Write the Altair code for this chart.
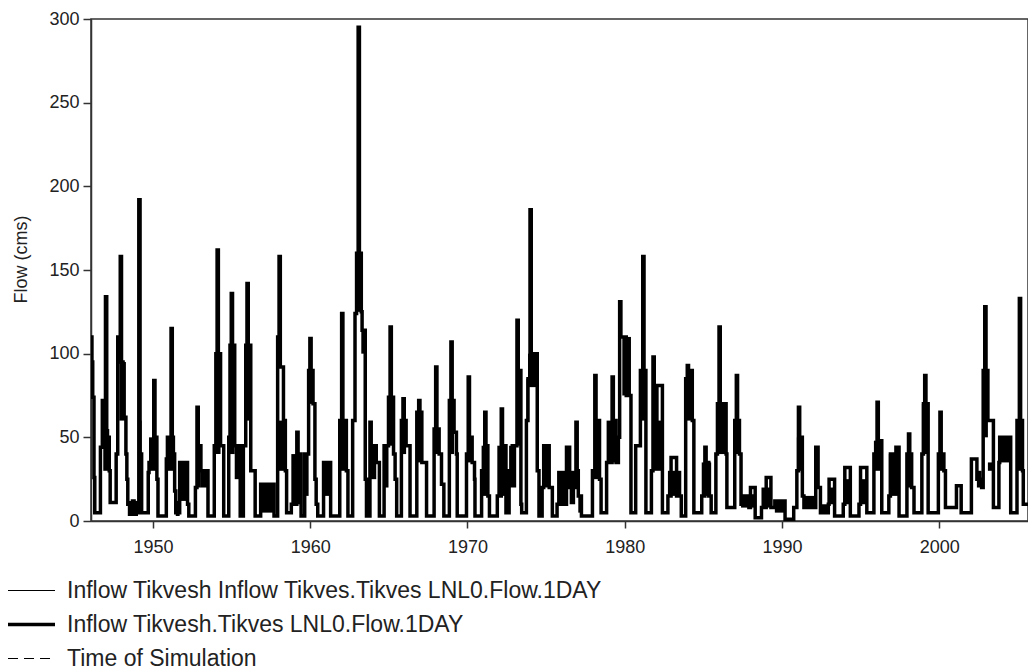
import altair as alt
import pandas as pd

THIN = "Inflow Tikvesh Inflow Tikves.Tikves LNL0.Flow.1DAY"
THICK = "Inflow Tikvesh.Tikves LNL0.Flow.1DAY"
SIM = "Time of Simulation"
series_names = [THIN, THICK, SIM]

# step points (decimal year, flow in cms)
flow_1946_1955 = [
    (1946.06, 110), (1946.12, 95), (1946.17, 74), (1946.25, 26), (1946.30, 5),
    (1946.66, 44), (1946.78, 72), (1946.84, 44), (1946.98, 134), (1947.06, 50), (1947.22, 30), (1947.28, 11),
    (1947.66, 40), (1947.76, 110), (1947.84, 95), (1947.92, 158), (1948.00, 95), (1948.10, 62), (1948.28, 40),
    (1948.34, 25), (1948.40, 10), (1948.55, 5), (1948.70, 12), (1948.80, 5),
    (1949.10, 192), (1949.18, 40), (1949.28, 5),
    (1949.70, 29), (1949.75, 35), (1950.05, 84), (1950.13, 50), (1950.25, 25), (1950.32, 3),
    (1950.85, 37), (1950.92, 50), (1951.15, 115), (1951.23, 50), (1951.30, 40), (1951.38, 18), (1951.45, 5),
    (1951.70, 35), (1952.20, 10), (1952.28, 3),
    (1952.70, 20), (1952.80, 68), (1952.88, 45), (1953.05, 30), (1953.50, 3),
    (1953.90, 45), (1954.00, 100), (1954.08, 162), (1954.16, 100), (1954.30, 45), (1954.50, 3),
    (1954.82, 50), (1954.90, 105), (1954.98, 136), (1955.06, 105), (1955.20, 45), (1955.55, 3),
]
flow_1955_1965 = [
    (1955.75, 45), (1955.90, 105), (1955.98, 142), (1956.06, 105), (1956.22, 30), (1956.50, 3),
    (1956.85, 22), (1957.70, 3),
    (1957.93, 110), (1958.02, 158), (1958.10, 92), (1958.30, 60), (1958.42, 30), (1958.50, 5),
    (1958.80, 10), (1959.15, 53), (1959.23, 40), (1959.42, 3),
    (1959.65, 40), (1959.90, 90), (1959.98, 109), (1960.06, 90), (1960.18, 70), (1960.30, 25), (1960.38, 10),
    (1960.48, 3),
    (1960.85, 35), (1961.30, 3),
    (1961.88, 60), (1962.00, 124), (1962.08, 60), (1962.30, 30), (1962.40, 3),
    (1962.70, 60), (1962.85, 124), (1962.95, 160), (1963.05, 295), (1963.13, 160), (1963.25, 125),
    (1963.30, 114), (1963.50, 25), (1963.58, 3),
    (1963.80, 59), (1963.88, 45), (1964.20, 35), (1964.40, 3),
    (1964.70, 45), (1964.98, 74), (1965.08, 116), (1965.16, 74), (1965.30, 40), (1965.40, 25), (1965.50, 3),
]
flow_1965_1975 = [
    (1965.80, 60), (1965.90, 73), (1965.98, 60), (1966.10, 45), (1966.35, 3),
    (1966.78, 65), (1966.90, 72), (1966.98, 65), (1967.10, 35), (1967.40, 3),
    (1967.88, 55), (1967.98, 92), (1968.06, 55), (1968.20, 40), (1968.35, 22), (1968.50, 3),
    (1968.85, 72), (1968.95, 107), (1969.03, 72), (1969.15, 53), (1969.30, 40), (1969.35, 3),
    (1969.94, 40), (1970.05, 86), (1970.13, 50), (1970.30, 35), (1970.45, 25), (1970.48, 3),
    (1970.90, 30), (1971.10, 65), (1971.18, 45), (1971.30, 15), (1971.40, 3),
    (1971.90, 15), (1972.15, 67), (1972.23, 45), (1972.45, 5),
    (1972.65, 30), (1972.85, 45), (1973.15, 120), (1973.23, 90), (1973.40, 10), (1973.45, 5),
    (1973.75, 60), (1973.85, 85), (1973.98, 186), (1974.06, 100), (1974.44, 30), (1974.55, 3),
    (1974.75, 20), (1974.85, 45), (1975.20, 20), (1975.40, 3),
]
flow_1975_1985 = [
    (1975.70, 10), (1976.30, 44), (1976.50, 20), (1976.90, 59), (1976.98, 30), (1977.05, 15), (1977.25, 3),
    (1977.95, 30), (1978.10, 87), (1978.18, 60), (1978.40, 25), (1978.50, 5),
    (1978.85, 35), (1979.20, 86), (1979.28, 60), (1979.45, 35), (1979.60, 50), (1979.68, 131), (1979.76, 110),
    (1980.10, 75), (1980.40, 5),
    (1980.70, 45), (1981.00, 90), (1981.15, 158), (1981.23, 90), (1981.35, 5),
    (1981.70, 30), (1981.80, 98), (1981.88, 60), (1982.05, 81), (1982.40, 5),
    (1982.75, 15), (1982.95, 38), (1983.30, 15), (1983.60, 3),
    (1983.88, 85), (1983.98, 93), (1984.06, 85), (1984.20, 90), (1984.30, 60), (1984.40, 5),
    (1984.90, 15), (1985.10, 44), (1985.18, 35), (1985.35, 15), (1985.50, 5),
]
flow_1985_1995 = [
    (1985.80, 40), (1985.90, 70), (1986.00, 116), (1986.08, 70), (1986.45, 40), (1986.50, 8),
    (1987.00, 60), (1987.10, 87), (1987.18, 60), (1987.30, 40), (1987.40, 10),
    (1987.90, 8), (1988.00, 20), (1988.30, 2),
    (1988.70, 8), (1989.00, 26), (1989.30, 8), (1989.55, 12), (1990.20, 1), (1990.75, 8),
    (1990.95, 30), (1991.05, 68), (1991.13, 50), (1991.30, 15), (1991.40, 8),
    (1992.15, 44), (1992.30, 20), (1992.45, 5),
    (1992.95, 10), (1993.00, 25), (1993.35, 3),
    (1993.90, 10), (1994.00, 32), (1994.35, 3),
    (1994.90, 10), (1995.00, 32), (1995.40, 5),
]
flow_1995_2005 = [
    (1995.85, 40), (1996.05, 71), (1996.13, 48), (1996.35, 5),
    (1996.80, 15), (1996.90, 40), (1997.25, 44), (1997.45, 3),
    (1997.95, 40), (1998.05, 52), (1998.13, 40), (1998.25, 20), (1998.40, 5),
    (1998.90, 40), (1999.00, 70), (1999.08, 87), (1999.16, 70), (1999.30, 5),
    (1999.95, 40), (2000.05, 65), (2000.13, 40), (2000.30, 30), (2000.40, 8),
    (2001.10, 21), (2001.40, 5),
    (2002.05, 37), (2002.40, 25), (2002.70, 20), (2002.80, 90), (2002.90, 128), (2002.98, 90), (2003.10, 60),
    (2003.45, 8),
    (2003.80, 35), (2003.85, 50), (2004.55, 5),
    (2004.95, 60), (2005.10, 133), (2005.18, 60), (2005.30, 30), (2005.35, 10), (2005.70, 10),
]

# dense daily fluctuation bands (start, end, low, high)
bands_1946_1955 = [
    (1946.84, 1947.22, 30, 55), (1947.86, 1948.28, 60, 95), (1948.40, 1949.05, 3, 12),
    (1949.05, 1949.28, 5, 60), (1949.75, 1950.25, 30, 50), (1950.92, 1951.30, 30, 50),
    (1951.45, 1951.70, 3, 12), (1951.70, 1952.20, 12, 35), (1952.76, 1953.05, 20, 45),
    (1953.05, 1953.50, 20, 30), (1954.00, 1954.30, 40, 100), (1954.90, 1955.20, 40, 105),
    (1955.20, 1955.55, 25, 45),
]
bands_1955_1965 = [
    (1955.90, 1956.22, 60, 105), (1956.85, 1957.70, 5, 22), (1958.00, 1958.42, 30, 60),
    (1958.80, 1959.42, 10, 40), (1959.65, 1959.90, 15, 40), (1959.90, 1960.18, 70, 90),
    (1960.85, 1961.30, 15, 35), (1961.88, 1962.30, 30, 60), (1962.95, 1963.25, 125, 160),
    (1963.25, 1963.50, 100, 114), (1963.80, 1964.20, 25, 45), (1964.70, 1964.98, 20, 45),
    (1964.98, 1965.30, 45, 74),
]
bands_1965_1975 = [
    (1965.80, 1966.10, 40, 60), (1966.78, 1967.10, 35, 65), (1967.88, 1968.20, 40, 55),
    (1968.85, 1969.15, 40, 72), (1970.00, 1970.30, 35, 50), (1970.90, 1971.30, 15, 45),
    (1971.90, 1972.45, 15, 45), (1972.65, 1973.10, 20, 45), (1973.10, 1973.40, 45, 90),
    (1973.75, 1973.85, 60, 85), (1973.85, 1974.44, 80, 100), (1974.75, 1975.20, 20, 45),
]
bands_1975_1985 = [
    (1975.70, 1976.30, 10, 30), (1976.50, 1976.85, 10, 30), (1977.05, 1977.25, 5, 15),
    (1978.05, 1978.40, 25, 60), (1978.85, 1979.45, 35, 60), (1979.85, 1980.40, 75, 110),
    (1981.05, 1981.35, 60, 90), (1981.75, 1982.40, 30, 60), (1982.75, 1983.60, 15, 30),
    (1983.88, 1984.40, 60, 85), (1984.90, 1985.50, 15, 35),
]
bands_1985_1995 = [
    (1985.90, 1986.45, 40, 70), (1987.00, 1987.30, 40, 60), (1987.40, 1988.30, 8, 16),
    (1988.70, 1989.30, 8, 20), (1989.55, 1990.20, 5, 12), (1990.95, 1991.30, 30, 50),
    (1991.40, 1992.10, 8, 15), (1992.45, 1992.95, 5, 10), (1992.95, 1993.35, 10, 20),
    (1993.90, 1994.35, 10, 25), (1994.90, 1995.40, 10, 25),
]
bands_1995_2005 = [
    (1995.85, 1996.35, 30, 48), (1996.80, 1997.45, 15, 40), (1997.95, 1998.25, 20, 40),
    (1998.90, 1999.30, 40, 70), (1999.95, 2000.30, 30, 40), (2002.40, 2002.70, 20, 30),
    (2002.80, 2003.10, 50, 90), (2003.10, 2003.45, 30, 35), (2003.80, 2004.55, 35, 50),
    (2004.95, 2005.30, 30, 60),
]

x_ticks = [1950, 1960, 1970, 1980, 1990, 2000]
y_ticks = [0, 50, 100, 150, 200, 250, 300]

flow_segments = [flow_1946_1955, flow_1955_1965, flow_1965_1975,
                 flow_1975_1985, flow_1985_1995, flow_1995_2005]
band_segments = [bands_1946_1955, bands_1955_1965, bands_1965_1975,
                 bands_1975_1985, bands_1985_1995, bands_1995_2005]

rows = []
for name in [THICK, THIN]:
    for seg in flow_segments:
        for t, q in seg:
            rows.append({"t": t, "q": q, "series": name})
line_df = pd.DataFrame(rows)

band_rows = []
for seg in band_segments:
    for t0, t1, lo, hi in seg:
        band_rows.append({"t0": t0, "t1": t1, "lo": lo, "hi": hi})
band_df = pd.DataFrame(band_rows)

FONT = "Liberation Sans"
x_scale = alt.Scale(domain=[1946.06, 2005.65], nice=False, zero=False)
y_scale = alt.Scale(domain=[0, 300], nice=False)
x_axis = alt.Axis(values=x_ticks, format="d", title=None, grid=False, tickSize=7,
                  labelPadding=10, labelFontSize=18, labelFont=FONT, labelColor="#222",
                  domainColor="#333", tickColor="#333", domainWidth=1.5, tickWidth=1.5)
y_axis = alt.Axis(values=y_ticks, title="Flow (cms)", grid=False, tickSize=8,
                  labelPadding=4, labelFontSize=18, labelFont=FONT, labelColor="#222",
                  titleFont=FONT, titleFontSize=18, titleFontWeight="normal", titleColor="#222",
                  titlePadding=18, titleY=240, domainColor="#333", tickColor="#333",
                  domainWidth=1.5, tickWidth=1.5)

# a long horizontal stroke drawn from a small symbol box, so rows can sit close together
legend = alt.Legend(title=None, orient="none", legendX=-71, legendY=560, direction="vertical",
                    symbolType="M-4.7,0H4.7", symbolSize=100, symbolStrokeColor="black",
                    symbolFillColor="transparent",
                    labelFontSize=23, labelFont=FONT, labelColor="#222", labelLimit=900,
                    labelOffset=24, rowPadding=10, padding=0)

bands = alt.Chart(band_df).mark_rect(color="black", clip=True).encode(
    x=alt.X("t0:Q", scale=x_scale, axis=x_axis),
    x2="t1:Q",
    y=alt.Y("lo:Q", scale=y_scale, axis=y_axis),
    y2="hi:Q",
)

lines = alt.Chart(line_df).mark_line(interpolate="step-after", clip=True, color="black",
                                     strokeCap="butt").encode(
    x=alt.X("t:Q", scale=x_scale, axis=x_axis),
    y=alt.Y("q:Q", scale=y_scale, axis=y_axis),
    strokeWidth=alt.StrokeWidth("series:N", scale=alt.Scale(type="ordinal", domain=series_names,
                                                            range=[1, 3.5, 1]), legend=legend),
    strokeDash=alt.StrokeDash("series:N", scale=alt.Scale(domain=series_names,
                                                          range=[[1, 0], [1, 0], [10, 6]]), legend=legend),
)

chart = alt.layer(bands, lines).properties(
    width=937, height=502,
    autosize=alt.AutoSizeParams(type="none"),
    padding={"left": 91, "top": 19, "right": 0, "bottom": 146},
    background="white",
).configure_view(stroke="#333", strokeWidth=1.5)

chart.save("out.html", embed_options={"renderer": "svg", "actions": False})
